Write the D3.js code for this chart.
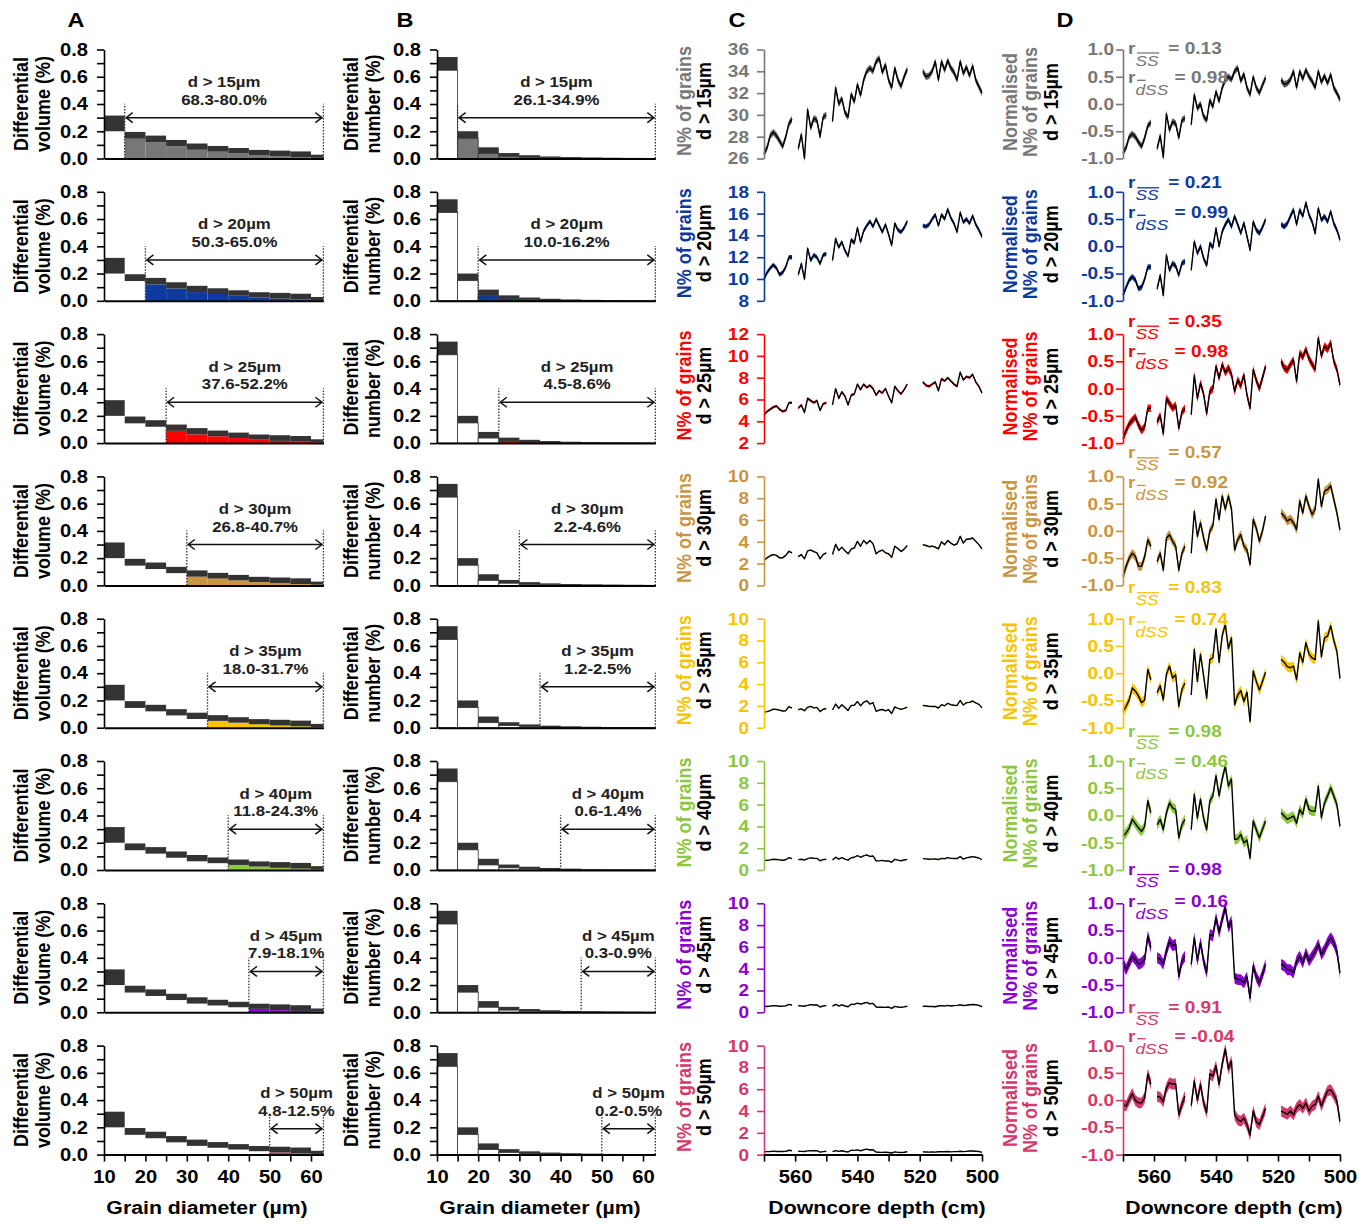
<!DOCTYPE html>
<html>
<head>
<meta charset="utf-8">
<script src="https://cdn.jsdelivr.net/npm/d3@7/dist/d3.min.js"></script>
<style>
  body { margin: 0; background: #fff; }
</style>
</head>
<body>
<svg id="chart" width="1366" height="1226"></svg>
<script>
// ---- data ----
var thresholds = [15, 20, 25, 30, 35, 40, 45, 50];
var rowColors = ["#777777", "#0e3a9e", "#ff0000", "#c99540", "#f8c300", "#8dc63f", "#8c00d2", "#d5386a"];

var binEdges = [10, 15, 20, 25, 30, 35, 40, 45, 50, 55, 60, 63];
var volMax = [0.315, 0.195, 0.168, 0.136, 0.110, 0.092, 0.077, 0.063, 0.058, 0.052, 0.028];
var volMin = [0.200, 0.145, 0.120, 0.090, 0.064, 0.050, 0.037, 0.025, 0.016, 0.010, 0.005];
var numMax = [0.745, 0.200, 0.082, 0.040, 0.024, 0.015, 0.010, 0.007, 0.005, 0.004, 0.003];
var numMin = [0.648, 0.148, 0.037, 0.016, 0.008, 0.005, 0.003, 0.002, 0.0015, 0.001, 0.0005];

var volRange = ["68.3-80.0%", "50.3-65.0%", "37.6-52.2%", "26.8-40.7%", "18.0-31.7%", "11.8-24.3%", "7.9-18.1%", "4.8-12.5%"];
var numRange = ["26.1-34.9%", "10.0-16.2%", "4.5-8.6%", "2.2-4.6%", "1.2-2.5%", "0.6-1.4%", "0.3-0.9%", "0.2-0.5%"];

var rSS = ["0.13", "0.21", "0.35", "0.57", "0.83", "0.98", "0.98", "0.91"];
var rdSS = ["0.98", "0.99", "0.98", "0.92", "0.74", "0.46", "0.16", "-0.04"];

var cDomains = [[26, 36], [8, 18], [2, 12], [0, 10], [0, 10], [0, 10], [0, 10], [0, 10]];

var depth = [570, 569, 568, 567, 566, 565, 564, 563, 562, 561,
  559, 558, 557, 556, 555, 554, 553, 552, 551, 550,
  548, 547, 546, 545, 544, 543, 542, 541, 540, 539, 538, 537, 536, 535, 534, 533, 532, 531, 530, 529, 528, 527, 526, 525, 524,
  519, 518, 517, 516, 515, 514, 513, 512, 511, 510, 509, 508, 507, 506, 505, 504, 503, 502, 501, 500];

var nGr15 = [26.4, 27.0, 28.1, 28.4, 28.1, 27.6, 27.1, 28.0, 29.2, 29.6,
  26.9, 28.2, 26.0, 30.5, 28.8, 29.7, 29.5, 28.0, 29.8, 30.0,
  29.4, 32.5, 31.0, 31.5, 30.2, 29.8, 31.9, 31.2, 32.8, 31.8, 33.2, 34.0, 34.3, 34.0, 34.9, 35.2, 33.9, 34.6, 33.2, 32.5, 34.3, 33.2, 32.6, 33.5, 34.2,
  34.0, 33.5, 33.6, 34.0, 34.9, 33.2, 34.9, 34.1, 35.0, 34.3, 33.9, 33.2, 34.9, 33.8, 34.4, 33.6, 34.5, 33.2, 32.6, 32.0];
var nGr20 = [10.0, 10.6, 11.0, 11.3, 11.0, 10.4, 10.6, 11.1, 12.0, 12.0,
  10.4, 11.4, 10.0, 12.8, 11.7, 12.2, 12.0, 11.4, 12.2, 12.3,
  11.7, 13.7, 12.9, 13.4, 12.6, 12.1, 13.6, 13.3, 14.7, 13.4, 14.4, 14.9, 15.3, 14.8, 15.5, 14.9, 14.3, 15.0, 14.1, 13.1, 15.1, 14.5, 14.3, 14.7, 15.3,
  14.9, 14.8, 15.0, 15.5, 15.9, 14.9, 15.9, 15.5, 16.4, 15.6, 15.1, 14.3, 16.1, 15.2, 15.5, 15.1, 15.8, 15.0, 14.5, 13.9];
var nGr25 = [4.6, 4.9, 5.1, 5.3, 5.4, 5.1, 4.9, 5.0, 5.7, 5.7,
  5.2, 5.5, 4.8, 6.1, 5.9, 5.7, 5.9, 5.0, 5.6, 5.7,
  5.5, 7.0, 6.1, 6.7, 6.3, 5.5, 6.4, 6.5, 7.4, 6.9, 7.4, 7.1, 7.3, 7.0, 6.4, 6.8, 6.6, 7.0, 6.3, 5.7, 7.2, 6.8, 6.5, 6.9, 7.4,
  7.6, 7.3, 7.2, 7.4, 7.6, 6.8, 7.9, 7.7, 8.0, 7.7, 7.4, 7.2, 8.5, 7.8, 8.1, 8.0, 8.3, 7.6, 7.2, 6.6];
var nGr30 = [2.30, 2.53, 2.72, 2.83, 2.75, 2.53, 2.53, 2.75, 3.13, 2.99,
  2.64, 2.83, 2.44, 3.17, 3.24, 3.10, 2.99, 2.44, 2.83, 2.99,
  2.83, 3.77, 3.21, 3.51, 3.17, 2.90, 3.33, 3.44, 4.04, 3.59, 4.12, 3.82, 4.12, 3.82, 2.90, 3.13, 3.24, 2.99, 2.90, 2.57, 3.59, 3.39, 3.10, 3.33, 3.66,
  3.74, 3.66, 3.55, 3.60, 3.51, 3.35, 4.01, 3.74, 4.12, 3.88, 3.70, 3.82, 4.50, 3.88, 4.23, 4.26, 4.35, 4.04, 3.74, 3.35];
var nGr35 = [1.43, 1.48, 1.56, 1.70, 1.67, 1.61, 1.53, 1.56, 1.93, 1.80,
  1.65, 1.73, 1.56, 1.87, 1.96, 1.82, 1.86, 1.48, 1.69, 1.76,
  1.62, 2.17, 1.78, 2.11, 1.85, 1.58, 2.04, 2.06, 2.41, 2.01, 2.33, 2.47, 2.17, 2.30, 1.50, 1.62, 1.67, 1.54, 1.65, 1.30, 1.91, 1.78, 1.68, 1.78, 1.89,
  2.04, 2.01, 1.96, 1.95, 1.96, 1.80, 2.12, 2.01, 2.24, 2.11, 2.06, 2.04, 2.50, 2.08, 2.30, 2.32, 2.45, 2.27, 2.14, 1.82];
var nGr40 = [0.86, 0.89, 0.93, 0.99, 0.96, 0.93, 0.90, 0.94, 1.13, 1.04,
  0.95, 0.99, 0.91, 1.04, 1.11, 1.08, 1.07, 0.85, 0.95, 0.99,
  0.91, 1.18, 1.00, 1.14, 1.00, 0.91, 1.13, 1.17, 1.32, 1.17, 1.29, 1.39, 1.24, 1.29, 0.84, 0.84, 0.88, 0.82, 0.84, 0.70, 0.98, 0.91, 0.85, 0.92, 0.98,
  1.04, 1.02, 0.99, 1.00, 1.02, 0.96, 1.07, 1.03, 1.14, 1.07, 1.05, 1.05, 1.24, 1.00, 1.11, 1.17, 1.23, 1.17, 1.10, 0.94];
var nGr45 = [0.57, 0.53, 0.57, 0.61, 0.59, 0.56, 0.57, 0.59, 0.73, 0.66,
  0.60, 0.59, 0.56, 0.64, 0.70, 0.67, 0.68, 0.49, 0.58, 0.61,
  0.56, 0.72, 0.58, 0.69, 0.58, 0.51, 0.74, 0.73, 0.84, 0.75, 0.83, 0.91, 0.78, 0.82, 0.48, 0.47, 0.47, 0.45, 0.48, 0.36, 0.55, 0.48, 0.45, 0.50, 0.56,
  0.56, 0.55, 0.53, 0.53, 0.51, 0.58, 0.61, 0.57, 0.63, 0.58, 0.61, 0.64, 0.68, 0.62, 0.65, 0.69, 0.72, 0.69, 0.64, 0.51];
var nGr50 = [0.27, 0.27, 0.29, 0.32, 0.29, 0.28, 0.28, 0.30, 0.40, 0.35,
  0.31, 0.30, 0.28, 0.34, 0.36, 0.35, 0.36, 0.23, 0.27, 0.31,
  0.27, 0.37, 0.29, 0.35, 0.28, 0.24, 0.40, 0.39, 0.43, 0.35, 0.44, 0.50, 0.42, 0.45, 0.23, 0.21, 0.20, 0.22, 0.19, 0.15, 0.25, 0.20, 0.19, 0.22, 0.26,
  0.25, 0.24, 0.23, 0.25, 0.23, 0.26, 0.27, 0.26, 0.28, 0.25, 0.27, 0.27, 0.31, 0.27, 0.30, 0.33, 0.33, 0.31, 0.29, 0.20];

var norm15 = [-0.9, -0.8, -0.6, -0.55, -0.6, -0.7, -0.78, -0.62, -0.4, -0.34,
  -0.82, -0.58, -0.98, -0.18, -0.48, -0.32, -0.36, -0.62, -0.3, -0.26,
  -0.38, 0.17, -0.08, 0.0, -0.23, -0.3, 0.07, -0.05, 0.23, 0.05, 0.3, 0.44, 0.5, 0.45, 0.6, 0.66, 0.42, 0.55, 0.3, 0.17, 0.5, 0.3, 0.2, 0.35, 0.48,
  0.44, 0.36, 0.38, 0.45, 0.6, 0.3, 0.6, 0.46, 0.63, 0.5, 0.42, 0.3, 0.6, 0.4, 0.52, 0.38, 0.54, 0.3, 0.2, 0.08];
var norm20 = [-0.9, -0.75, -0.62, -0.56, -0.62, -0.78, -0.75, -0.6, -0.38, -0.38,
  -0.78, -0.53, -0.9, -0.16, -0.44, -0.31, -0.36, -0.53, -0.31, -0.28,
  -0.44, 0.09, -0.13, 0.0, -0.22, -0.35, 0.05, -0.02, 0.33, 0.0, 0.27, 0.4, 0.49, 0.36, 0.55, 0.4, 0.24, 0.43, 0.18, -0.07, 0.45, 0.3, 0.24, 0.35, 0.49,
  0.4, 0.36, 0.42, 0.55, 0.67, 0.4, 0.67, 0.55, 0.8, 0.58, 0.45, 0.24, 0.7, 0.48, 0.55, 0.45, 0.64, 0.42, 0.3, 0.12];
var norm25 = [-0.92, -0.77, -0.65, -0.58, -0.52, -0.67, -0.77, -0.7, -0.36, -0.36,
  -0.61, -0.49, -0.83, -0.18, -0.27, -0.36, -0.3, -0.73, -0.43, -0.36,
  -0.48, 0.25, -0.18, 0.1, -0.1, -0.46, -0.05, 0.0, 0.41, 0.19, 0.44, 0.29, 0.38, 0.26, -0.05, 0.16, 0.05, 0.25, -0.12, -0.36, 0.35, 0.15, 0.0, 0.2, 0.41,
  0.5, 0.38, 0.34, 0.44, 0.53, 0.13, 0.65, 0.58, 0.72, 0.55, 0.45, 0.35, 0.93, 0.6, 0.78, 0.72, 0.84, 0.5, 0.35, 0.07];
var norm30 = [-0.84, -0.65, -0.5, -0.41, -0.47, -0.65, -0.65, -0.47, -0.16, -0.28,
  -0.56, -0.41, -0.72, -0.13, -0.07, -0.19, -0.28, -0.72, -0.41, -0.28,
  -0.41, 0.36, -0.1, 0.15, -0.13, -0.35, 0.0, 0.09, 0.58, 0.21, 0.64, 0.4, 0.64, 0.4, -0.35, -0.16, -0.07, -0.28, -0.35, -0.62, 0.21, 0.05, -0.19, 0.0, 0.27,
  0.33, 0.27, 0.18, 0.22, 0.15, 0.02, 0.55, 0.33, 0.64, 0.45, 0.3, 0.4, 0.95, 0.45, 0.73, 0.76, 0.83, 0.58, 0.33, 0.02];
var norm35 = [-0.7, -0.61, -0.49, -0.27, -0.33, -0.42, -0.54, -0.49, 0.07, -0.12,
  -0.36, -0.23, -0.49, -0.02, 0.13, -0.09, -0.03, -0.61, -0.3, -0.18,
  -0.4, 0.44, -0.15, 0.35, -0.05, -0.46, 0.25, 0.28, 0.81, 0.2, 0.69, 0.9, 0.45, 0.65, -0.58, -0.4, -0.32, -0.52, -0.35, -0.89, 0.04, -0.15, -0.31, -0.15, 0.02,
  0.25, 0.2, 0.12, 0.1, 0.13, -0.12, 0.37, 0.2, 0.56, 0.35, 0.28, 0.25, 0.96, 0.3, 0.65, 0.68, 0.87, 0.6, 0.4, -0.1];
var norm40 = [-0.38, -0.32, -0.23, -0.07, -0.15, -0.23, -0.29, -0.2, 0.27, 0.05,
  -0.17, -0.07, -0.26, 0.05, 0.23, 0.14, 0.11, -0.41, -0.17, -0.07,
  -0.26, 0.39, -0.05, 0.3, -0.05, -0.26, 0.27, 0.36, 0.73, 0.36, 0.67, 0.91, 0.54, 0.67, -0.44, -0.43, -0.35, -0.5, -0.45, -0.78, -0.1, -0.26, -0.41, -0.25, -0.1,
  0.05, -0.01, -0.07, -0.04, -0.01, -0.14, 0.11, 0.02, 0.3, 0.11, 0.08, 0.08, 0.54, -0.04, 0.23, 0.36, 0.51, 0.36, 0.2, -0.2];
var norm45 = [-0.09, -0.22, -0.09, 0.03, -0.03, -0.12, -0.09, -0.03, 0.4, 0.19,
  0.0, -0.03, -0.12, 0.12, 0.31, 0.22, 0.25, -0.34, -0.06, 0.03,
  -0.12, 0.37, -0.05, 0.28, -0.06, -0.28, 0.43, 0.4, 0.74, 0.46, 0.71, 0.93, 0.56, 0.68, -0.37, -0.4, -0.4, -0.46, -0.35, -0.74, -0.15, -0.35, -0.46, -0.3, -0.12,
  -0.12, -0.15, -0.22, -0.22, -0.28, -0.06, 0.03, -0.09, 0.09, -0.06, 0.03, 0.12, 0.25, 0.06, 0.15, 0.28, 0.37, 0.28, 0.12, -0.28];
var norm50 = [-0.08, -0.11, 0.01, 0.12, -0.01, -0.05, -0.05, 0.04, 0.48, 0.29,
  0.07, 0.05, -0.03, 0.22, 0.32, 0.29, 0.3, -0.27, -0.08, 0.07,
  -0.1, 0.35, 0.0, 0.29, -0.05, -0.23, 0.48, 0.44, 0.63, 0.29, 0.66, 0.94, 0.57, 0.72, -0.27, -0.36, -0.39, -0.33, -0.45, -0.64, -0.2, -0.4, -0.45, -0.3, -0.15,
  -0.2, -0.23, -0.26, -0.2, -0.27, -0.14, -0.08, -0.15, -0.05, -0.2, -0.11, -0.08, 0.07, -0.11, 0.04, 0.17, 0.19, 0.1, -0.02, -0.39];

// half-width of the shaded uncertainty band per row
var cErr = [0.3, 0.2, 0.12, 0.07, 0.05, 0.03, 0.025, 0.02];
var dErr = [0.06, 0.05, 0.07, 0.08, 0.09, 0.09, 0.1, 0.1];

var nGrains = [nGr15, nGr20, nGr25, nGr30, nGr35, nGr40, nGr45, nGr50];
var normGrains = [norm15, norm20, norm25, norm30, norm35, norm40, norm45, norm50];

// ---- layout ----
var FONT = '"Liberation Sans", Arial, Helvetica, sans-serif';
var SX = 1.12; // the original lettering is a little wide
var rowTop = function(r) { return 49.5 + r * 142.3; };
var rowH = 109;
var arrowLevel = [0.3, 0.3, 0.3, 0.3, 0.3, 0.3, 0.3, 0.19];
var rBase1 = [4, -3.5, -7.4, -18, -25.4, -24.3, -28.3, -32.3];
var rBase2 = [33.8, 26.5, 22.6, 12, 6.3, 5.7, 3.4, -3.9];

var svg = d3.select("#chart").attr("font-family", FONT).attr("font-weight", "bold");

function htext(g, x, y, str, size, color, anchor) {
  return g.append("text")
    .attr("transform", "translate(" + x + "," + y + ") scale(" + SX + ",1)")
    .attr("text-anchor", anchor || "middle")
    .attr("font-size", size)
    .attr("fill", color || "#000")
    .text(str);
}

function vtext(g, x, y, str, size, color) {
  return g.append("text")
    .attr("transform", "translate(" + x + "," + y + ") scale(" + SX + ",1) rotate(-90)")
    .attr("text-anchor", "middle")
    .attr("dy", "0.36em")
    .attr("font-size", size)
    .attr("fill", color || "#000")
    .text(str);
}

function styleAxis(g, color, size) {
  g.attr("font-family", FONT).attr("font-size", size).attr("font-weight", "bold");
  g.select(".domain").attr("stroke", color).attr("stroke-width", 1.6);
  g.selectAll(".tick line").attr("stroke", color).attr("stroke-width", 1.6);
  g.selectAll(".tick text").attr("fill", color).each(function() {
    var t = d3.select(this), tx = +t.attr("x") || 0;
    t.attr("x", 0).attr("transform", "translate(" + tx + ",0) scale(" + SX + ",1)");
  });
}

var yTicksHist = [0, 0.1, 0.2, 0.3, 0.4, 0.5, 0.6, 0.7, 0.8];
var xTicksHist = [10, 15, 20, 25, 30, 35, 40, 45, 50, 55, 60];
var depthTicks = [570, 560, 550, 540, 530, 520, 510, 500];

function histPanel(r, left, right, maxV, minV, rangeText, outline) {
  var top = rowTop(r), bottom = top + rowH, t = thresholds[r], col = rowColors[r];
  var x = d3.scaleLinear().domain([10, 63]).range([left, left + (right - left) * 53 / 50]);
  var y = d3.scaleLinear().domain([0, 0.8]).range([bottom, top]);
  var g = svg.append("g");
  var bins = maxV.map(function(v, i) { return { x0: binEdges[i], x1: binEdges[i + 1], hi: v, lo: minV[i] }; });

  g.selectAll("rect.lo").data(bins).join("rect").attr("class", "lo")
    .attr("x", d => x(d.x0)).attr("width", d => x(d.x1) - x(d.x0))
    .attr("y", d => y(d.lo)).attr("height", d => y(0) - y(d.lo))
    .attr("fill", d => d.x0 >= t ? col : "#fff")
    .attr("stroke", outline ? "#333" : "none").attr("stroke-width", 0.8);
  g.selectAll("rect.hi").data(bins).join("rect").attr("class", "hi")
    .attr("x", d => x(d.x0)).attr("width", d => x(d.x1) - x(d.x0))
    .attr("y", d => y(d.hi)).attr("height", d => y(d.lo) - y(d.hi))
    .attr("fill", "#333");

  var ya = g.append("g").attr("transform", "translate(" + left + ",0)")
    .call(d3.axisLeft(y).tickValues(yTicksHist)
      .tickFormat(d => Math.round(d * 10) % 2 ? "" : d.toFixed(1))
      .tickSize(7).tickPadding(9).tickSizeOuter(0));
  styleAxis(ya, "#000", 18);

  var xa = g.append("g").attr("transform", "translate(0," + bottom + ")");
  if (r === 7) {
    xa.call(d3.axisBottom(x).tickValues(xTicksHist).tickFormat(d => d % 10 ? "" : d)
      .tickSize(7).tickPadding(9).tickSizeOuter(0));
  } else {
    xa.call(d3.axisBottom(x).tickValues([]).tickSizeOuter(0));
  }
  styleAxis(xa, "#000", 18);
  xa.select(".domain").attr("stroke-width", 2);

  // range annotation
  var ay = y(arrowLevel[r]), xa0 = x(t), xa1 = x(63);
  [xa0, xa1].forEach(function(xx) {
    g.append("line").attr("x1", xx).attr("x2", xx).attr("y1", y(0)).attr("y2", ay - 14)
      .attr("stroke", "#333").attr("stroke-width", 1.3).attr("stroke-dasharray", "1.5,1.5");
  });
  g.append("line").attr("x1", xa0 + 1).attr("x2", xa1 - 1).attr("y1", ay).attr("y2", ay)
    .attr("stroke", "#111").attr("stroke-width", 1.5);
  g.append("path").attr("d", "M" + (xa0 + 8) + "," + (ay - 5) + "L" + (xa0 + 1.5) + "," + ay + "L" + (xa0 + 8) + "," + (ay + 5))
    .attr("fill", "none").attr("stroke", "#111").attr("stroke-width", 1.5);
  g.append("path").attr("d", "M" + (xa1 - 8) + "," + (ay - 5) + "L" + (xa1 - 1.5) + "," + ay + "L" + (xa1 - 8) + "," + (ay + 5))
    .attr("fill", "none").attr("stroke", "#111").attr("stroke-width", 1.5);
  var cx = (xa0 + xa1) / 2;
  htext(g, cx, ay - 30.5, "d > " + t + "µm", 15, "#222");
  htext(g, cx, ay - 13, rangeText, 15, "#222");
  return g;
}

// contiguous runs of depth (gaps where samples are missing)
var segments = [];
(function() {
  var cur = [];
  depth.forEach(function(d, i) {
    if (i && depth[i - 1] - d > 1.5) { segments.push(cur); cur = []; }
    cur.push(i);
  });
  segments.push(cur);
})();

function seriesPanel(r, left, right, vals, err, domain, ticks, fmt, pad) {
  var top = rowTop(r), bottom = top + rowH, col = rowColors[r];
  var x = d3.scaleLinear().domain([570, 500]).range([left, right]);
  var y = d3.scaleLinear().domain(domain).range([bottom, top]);
  var g = svg.append("g");
  var area = d3.area().x(i => x(depth[i])).y0(i => y(vals[i] - err)).y1(i => y(vals[i] + err));
  var line = d3.line().x(i => x(depth[i])).y(i => y(vals[i]));
  g.selectAll("path.band").data(segments).join("path").attr("class", "band")
    .attr("d", area).attr("fill", r === 0 ? "#5a5a5a" : col);
  g.selectAll("path.ln").data(segments).join("path").attr("class", "ln")
    .attr("d", line).attr("fill", "none").attr("stroke", "#000")
    .attr("stroke-width", 1.4).attr("stroke-linejoin", "round");

  var ya = g.append("g").attr("transform", "translate(" + left + ",0)")
    .call(d3.axisLeft(y).tickValues(ticks).tickFormat(fmt).tickSize(7).tickPadding(pad).tickSizeOuter(0));
  styleAxis(ya, col, 17);

  if (r === 7) {
    var xa = g.append("g").attr("transform", "translate(0," + bottom + ")")
      .call(d3.axisBottom(x).tickValues(depthTicks).tickFormat(d => d % 20 ? "" : d)
        .tickSize(7).tickPadding(9).tickSizeOuter(0));
    styleAxis(xa, "#000", 18);
    xa.select(".domain").attr("stroke-width", 2);
  }
  return g;
}

function rLabel(x, yb, sub, barOnD, val, color) {
  var g = svg.append("g").attr("transform", "translate(" + x + "," + yb + ") scale(" + SX + ",1)");
  var t = g.append("text").attr("fill", color).attr("font-size", 17).attr("font-weight", "bold");
  t.append("tspan").text("r");
  t.append("tspan").attr("dy", 12).attr("font-size", 15.5).attr("font-style", "italic")
    .attr("font-weight", "normal").text(sub);
  t.append("tspan").attr("dy", -12).attr("dx", barOnD ? 1 : 4).text(" = " + val);
  var node = t.node();
  var last = barOnD ? 1 : sub.length;
  var xs = node.getStartPositionOfChar(1).x + 1.5, xe = node.getEndPositionOfChar(last).x + 0.5;
  var by = barOnD ? -3 : -0.5;
  g.append("line").attr("x1", xs).attr("x2", xe).attr("y1", by).attr("y2", by)
    .attr("stroke", color).attr("stroke-width", 1.3);
}

// ---- draw ----
for (var r = 0; r < 8; r++) {
  var col = rowColors[r], mid = rowTop(r) + rowH / 2;
  var dLabel = "d > " + thresholds[r] + "µm";

  histPanel(r, 104, 311, volMax, volMin, volRange[r], false);
  vtext(svg, 21, mid, "Differential", 18);
  vtext(svg, 43, mid, "volume (%)", 18);

  histPanel(r, 437, 643, numMax, numMin, numRange[r], true);
  vtext(svg, 351, mid, "Differential", 18);
  vtext(svg, 373, mid, "number (%)", 18);

  var dom = cDomains[r];
  seriesPanel(r, 764, 982, nGrains[r], cErr[r], dom, d3.range(dom[0], dom[1] + 1, 2), d => d, 8);
  vtext(svg, 683.5, mid - 3, "N% of grains", 18, col);
  vtext(svg, 704, mid - 3, dLabel, 18, "#000");

  seriesPanel(r, 1123, 1340, normGrains[r], dErr[r], [-1, 1], [-1, -0.5, 0, 0.5, 1], d => d.toFixed(1), 2);
  vtext(svg, 1010, mid - 2, "Normalised", 18, col);
  vtext(svg, 1030, mid - 2, "N% of grains", 18, col);
  vtext(svg, 1051, mid - 2, dLabel, 18, "#000");

  rLabel(1128, rowTop(r) + rBase1[r], "SS", false, rSS[r], col);
  rLabel(1128, rowTop(r) + rBase2[r], "dSS", true, rdSS[r], col);
}

// panel letters and bottom titles
[["A", 76], ["B", 405], ["C", 737], ["D", 1065]].forEach(function(p) {
  htext(svg, p[1], 27, p[0], 21, "#000");
});
htext(svg, 207, 1214, "Grain diameter (µm)", 19, "#000");
htext(svg, 540, 1214, "Grain diameter (µm)", 19, "#000");
htext(svg, 877, 1214, "Downcore depth (cm)", 19, "#000");
htext(svg, 1234, 1214, "Downcore depth (cm)", 19, "#000");
</script>
</body>
</html>
